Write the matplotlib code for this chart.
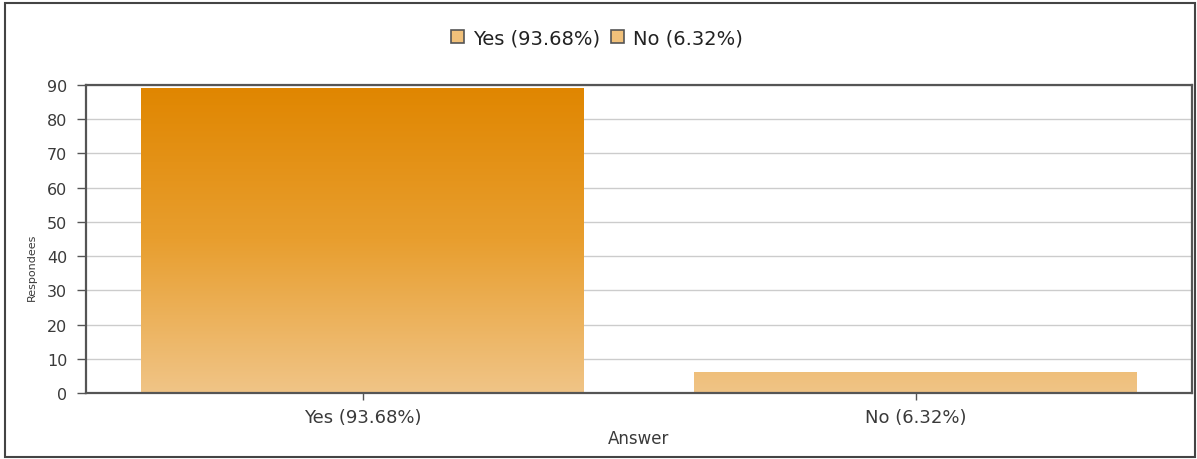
import matplotlib.pyplot as plt
import numpy as np
from matplotlib.colors import LinearSegmentedColormap
from matplotlib.patches import Rectangle, Patch

# survey answers and respondent counts
answers = ["Yes (93.68%)", "No (6.32%)"]
counts = [89, 6]
y_ticks = [0, 10, 20, 30, 40, 50, 60, 70, 80, 90]

plt.rcParams['font.family'] = ['DejaVu Sans']

fig = plt.figure(figsize=(11.97, 4.60), dpi=100)
ax = fig.add_axes([86 / 1197, 66 / 460, 1106 / 1197, 308 / 460])

ymax = 90
bar_width = 0.8
# gradient goes from light at the baseline to dark orange at the top of the scale
cmap = LinearSegmentedColormap.from_list("orange_fade", ["#F0C486", "#E89E2E", "#E08600"])

x = np.arange(len(answers))
for i, c in enumerate(counts):
    x0 = x[i] - bar_width / 2
    x1 = x[i] + bar_width / 2
    grad = np.linspace(0, c / ymax, 256).reshape(-1, 1)
    im = ax.imshow(grad, extent=(x0, x1, 0, c), origin="lower", aspect="auto",
                   cmap=cmap, vmin=0, vmax=1, zorder=2)
    rect = Rectangle((x0, 0), bar_width, c, facecolor="none", edgecolor="none")
    ax.add_patch(rect)
    im.set_clip_path(rect)

ax.set_xlim(-0.5, len(answers) - 0.5)
ax.set_ylim(0, ymax)
ax.set_yticks(y_ticks)
ax.set_xticks(x)
ax.set_xticklabels(answers)
ax.tick_params(axis="y", length=6.5, width=1, color="#555555", labelsize=11.5, labelcolor="#3a3a3a", pad=7)
ax.tick_params(axis="x", length=5, width=1, color="#555555", labelsize=13, labelcolor="#3a3a3a", pad=6)

ax.grid(axis="y", color="#cccccc", linewidth=1)
ax.set_axisbelow(True)
for s in ax.spines.values():
    s.set_color("#555555")
    s.set_linewidth(1.6)

ax.set_ylabel("Respondees", fontsize=8, color="#3a3a3a")
ax.yaxis.set_label_coords(-0.044, 0.41)
ax.set_xlabel("Answer", fontsize=12, color="#3a3a3a", labelpad=2)

handles = [Patch(facecolor="#F0C07A", edgecolor="#555555", linewidth=1.2, label=a) for a in answers]
fig.legend(handles=handles, loc="center", bbox_to_anchor=(597 / 1197, 1 - 39 / 460),
           ncol=2, frameon=False, fontsize=14, handlelength=0.65, handleheight=0.65,
           handletextpad=0.45, columnspacing=0.6, labelcolor="#222222")

# outer frame around the whole chart
fig.patches.append(Rectangle((5 / 1197, 2 / 460), 1190 / 1197, 454 / 460,
                             transform=fig.transFigure, fill=False,
                             edgecolor="#444444", linewidth=1.5))

fig.savefig("out.png", dpi=100)
